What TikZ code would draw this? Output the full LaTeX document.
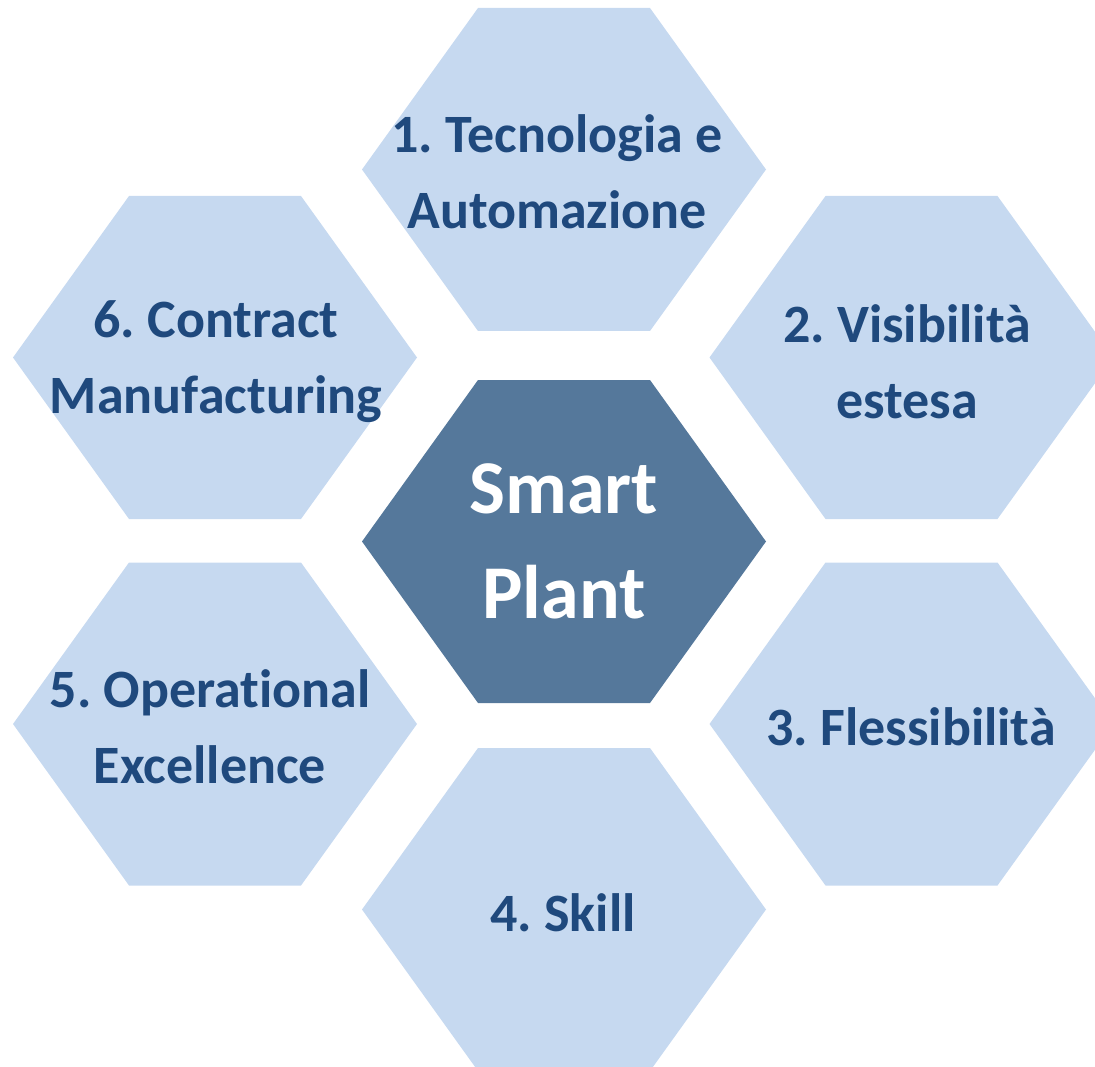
\documentclass[tikz,border=0pt]{standalone}
\usepackage{fontspec}
\setmainfont[Ligatures={NoCommon}]{Carlito}
\frenchspacing
\definecolor{hexlight}{RGB}{198,217,240}
\definecolor{hexdark}{RGB}{85,120,155}
\definecolor{txtblue}{RGB}{31,73,125}
\newcommand{\hexshape}[3]{%
  \fill[#3] (#1,#2) ++(-202,0) -- ++(116,-161.5) -- ++(172,0) -- ++(116,161.5)
    -- ++(-116,161.5) -- ++(-172,0) -- cycle;}
\tikzset{
  hexlabel/.style={text=txtblue, font=\bfseries\fontsize{54}{76}\selectfont, align=center, inner sep=0pt},
  centerlabel/.style={text=white, font=\bfseries\fontsize{76}{105}\selectfont, align=center, inner sep=0pt}
}
\begin{document}
\begin{tikzpicture}[x=1pt,y=-1pt]
\useasboundingbox (0,0) rectangle (1095,1067);
\clip (0,0) rectangle (1095,1067);
\hexshape{564}{541.5}{hexdark}
\hexshape{564}{169.5}{hexlight}
\hexshape{911.5}{357.5}{hexlight}
\hexshape{911.5}{724}{hexlight}
\hexshape{564}{909.5}{hexlight}
\hexshape{215}{724}{hexlight}
\hexshape{215}{357.5}{hexlight}
\node[centerlabel] (c) at (564,541.5) {Smart\\Plant};
\node[hexlabel] (h1) at (557,172) {1. Tecnologia e\\Automazione};
\node[hexlabel] (h2) at (907,362) {2. Visibilità\\estesa};
\node[hexlabel] (h3) at (911,727) {3. Flessibilità};
\node[hexlabel] (h4) at (563,913) {4. Skill};
\node[hexlabel] (h5) at (210,727) {5. Operational\\Excellence};
\node[hexlabel] (h6) at (216,362) {6. Contract\\Manufacturing};
\end{tikzpicture}
\end{document}
